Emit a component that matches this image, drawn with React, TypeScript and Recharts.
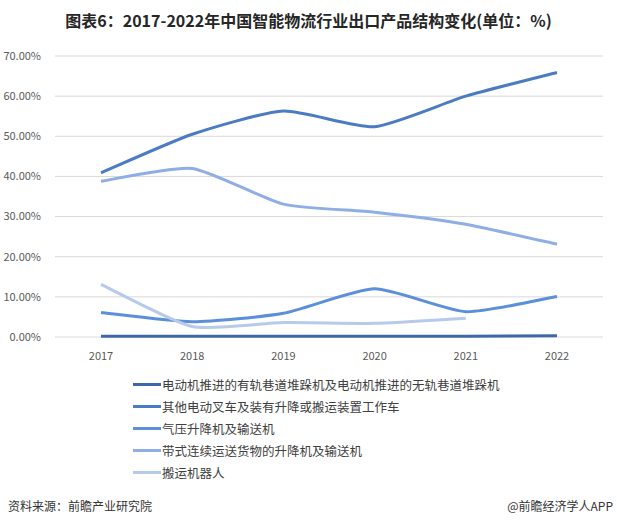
import { CartesianGrid, Line, LineChart, XAxis, YAxis } from "recharts";

const years = ["2017", "2018", "2019", "2020", "2021", "2022"];

const stackerCrane = [0.2, 0.2, 0.2, 0.2, 0.2, 0.3];
const forkliftTruck = [40.9, 50.5, 56.3, 52.4, 60.0, 65.9];
const pneumaticLift = [6.1, 3.8, 5.9, 12.0, 6.3, 10.1];
const beltConveyor = [38.8, 42.0, 33.1, 31.1, 28.1, 23.1];
const handlingRobot: (number | null)[] = [13.1, 2.6, 3.6, 3.4, 4.7, null];

const yTicks = [0, 10, 20, 30, 40, 50, 60, 70];

const series = [
  { key: "s1", name: "电动机推进的有轨巷道堆跺机及电动机推进的无轨巷道堆跺机", values: stackerCrane, color: "#3e68ab" },
  { key: "s2", name: "其他电动叉车及装有升降或搬运装置工作车", values: forkliftTruck, color: "#4a7bc3" },
  { key: "s3", name: "气压升降机及输送机", values: pneumaticLift, color: "#5b8fd9" },
  { key: "s4", name: "带式连续运送货物的升降机及输送机", values: beltConveyor, color: "#8faee5" },
  { key: "s5", name: "搬运机器人", values: handlingRobot, color: "#b7caeb" },
];

const data = years.map((year, i) => {
  const row: Record<string, string | number | null> = { year };
  series.forEach((s) => {
    row[s.key] = s.values[i];
  });
  return row;
});

// light Catmull-Rom style smoothing, close to Excel's "smoothed line"
const softCurve = (context: any) => {
  let pts: [number, number][] = [];
  const k = 0.1;
  return {
    areaStart() {},
    areaEnd() {},
    lineStart() {
      pts = [];
    },
    point(x: number, y: number) {
      pts.push([+x, +y]);
    },
    lineEnd() {
      if (!pts.length) return;
      context.moveTo(pts[0][0], pts[0][1]);
      for (let i = 0; i < pts.length - 1; i++) {
        const p0 = pts[i - 1] || pts[i];
        const p1 = pts[i];
        const p2 = pts[i + 1];
        const p3 = pts[i + 2] || p2;
        context.bezierCurveTo(
          p1[0] + (p2[0] - p0[0]) * k,
          p1[1] + (p2[1] - p0[1]) * k,
          p2[0] - (p3[0] - p1[0]) * k,
          p2[1] - (p3[1] - p1[1]) * k,
          p2[0],
          p2[1]
        );
      }
    },
  };
};

const font = '"Noto Sans CJK SC", "Noto Sans", sans-serif';

export default function App() {
  return (
    <div
      style={{
        position: "absolute",
        left: 0,
        top: 0,
        width: 617,
        height: 526,
        background: "#fff",
        fontFamily: font,
        overflow: "hidden",
      }}
    >
      <div
        style={{
          position: "absolute",
          top: 8,
          width: 617,
          textAlign: "center",
          fontSize: 16,
          fontWeight: 700,
          color: "#262626",
        }}
      >
        图表6：2017-2022年中国智能物流行业出口产品结构变化(单位：%)
      </div>
      <div style={{ position: "absolute", left: 0, top: 0 }}>
        <LineChart
          width={617}
          height={362}
          data={data}
          margin={{ top: 56, right: 14, left: 0, bottom: 0 }}
        >
          <CartesianGrid stroke="#d9d9d9" vertical={false} />
          <XAxis
            dataKey="year"
            axisLine={false}
            tickLine={false}
            tickMargin={9}
            height={25}
            padding={{ left: 46, right: 46 }}
            tick={{ fontSize: 11, fill: "#595959", fontFamily: font }}
          />
          <YAxis
            width={55}
            domain={[0, 70]}
            ticks={yTicks}
            axisLine={false}
            tickLine={false}
            tickMargin={8}
            tick={{ fontSize: 11, fill: "#595959", fontFamily: font }}
            tickFormatter={(v) => `${Number(v).toFixed(2)}%`}
          />
          {series.map((s) => (
            <Line
              key={s.key}
              type={softCurve as any}
              dataKey={s.key}
              name={s.name}
              stroke={s.color}
              strokeWidth={3}
              dot={false}
              activeDot={false}
              isAnimationActive={false}
            />
          ))}
        </LineChart>
      </div>
      <div style={{ position: "absolute", left: 133, top: 373 }}>
        {series.map((s) => (
          <div
            key={s.key}
            style={{ display: "flex", alignItems: "center", height: 22, fontSize: 12.5, color: "#404040" }}
          >
            <span
              style={{ display: "inline-block", width: 28, height: 3, background: s.color, marginRight: 1 }}
            />
            {s.name}
          </div>
        ))}
      </div>
      <div style={{ position: "absolute", left: 8, top: 497, fontSize: 12, color: "#333" }}>
        资料来源：前瞻产业研究院
      </div>
      <div style={{ position: "absolute", right: 4, top: 497, fontSize: 12, color: "#333" }}>
        @前瞻经济学人APP
      </div>
    </div>
  );
}
